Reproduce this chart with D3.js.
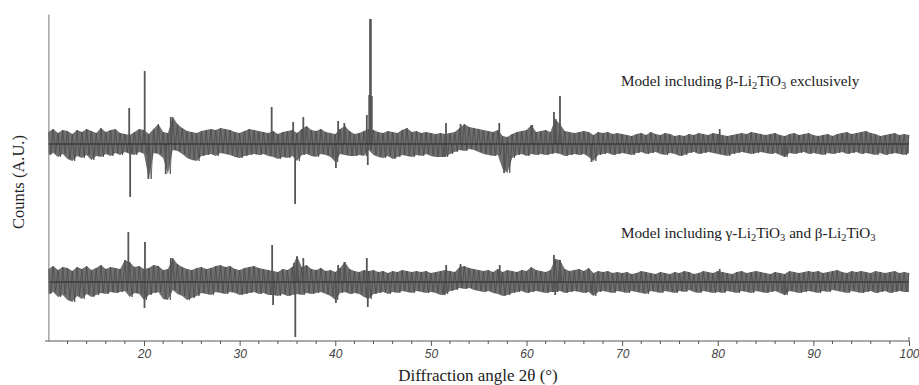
<!DOCTYPE html>
<html>
<head>
<meta charset="utf-8">
<script src="https://cdn.jsdelivr.net/npm/d3@7"></script>
<style>
  body { margin: 0; background: #fff; }
  .tick text { font-family: "Liberation Sans", Arial, sans-serif; font-style: italic; }
</style>
</head>
<body>
<div id="graf"></div>
<script>
// residual patterns, counts (A.U.), sampled every 0.5 deg from 10 to 100
const angleStart = 10
const angleStep = 0.5

const topHi = [
  120,150,110,140,130,100,140,120,150,130,
  110,160,120,140,150,110,100,90,120,150,
  140,100,150,200,120,110,270,200,160,130,
  120,110,130,140,150,140,160,150,140,120,
  110,130,150,140,130,120,110,130,100,120,
  130,140,110,150,180,140,130,150,120,110,
  100,150,180,130,100,110,130,150,140,120,
  110,130,120,110,140,160,120,130,110,120,
  110,100,110,100,110,120,160,200,170,160,
  150,140,130,120,140,80,70,100,120,130,
  140,190,120,130,140,120,250,200,130,120,
  110,120,130,120,90,120,110,120,100,110,
  100,90,80,100,110,90,120,100,90,110,
  100,80,90,80,100,90,110,100,90,110,
  100,90,80,90,100,110,100,120,110,100,
  90,100,110,90,80,100,110,90,100,110,
  90,80,90,100,80,100,110,120,100,110,
  120,130,110,100,80,90,100,110,90,100,
  90
]
const topLo = [
  -110,-90,-130,-100,-150,-170,-120,-140,-110,-160,
  -120,-130,-100,-120,-90,-110,-80,-100,-110,-80,
  -100,-350,-90,-100,-140,-300,-60,-70,-100,-140,
  -160,-170,-120,-110,-100,-120,-90,-100,-110,-130,
  -140,-120,-110,-100,-110,-100,-120,-130,-150,-130,
  -140,-120,-170,-110,-100,-120,-130,-100,-110,-130,
  -180,-100,-110,-120,-120,-110,-120,-60,-110,-130,
  -140,-120,-150,-130,-110,-120,-130,-110,-120,-100,
  -120,-130,-130,-130,-100,-80,-60,-70,-50,-60,
  -80,-100,-110,-120,-110,-250,-290,-140,-110,-100,
  -120,-100,-110,-100,-110,-100,-90,-100,-120,-110,
  -100,-110,-100,-130,-170,-110,-100,-90,-110,-100,
  -90,-100,-110,-90,-80,-100,-90,-80,-100,-110,
  -90,-100,-120,-110,-90,-80,-100,-90,-80,-90,
  -100,-110,-120,-100,-90,-80,-90,-100,-90,-80,
  -90,-100,-90,-110,-130,-90,-100,-90,-80,-100,
  -90,-100,-110,-90,-100,-90,-80,-100,-90,-80,
  -100,-90,-100,-110,-90,-110,-100,-90,-100,-110,
  -90
]
// sharp peaks / dips: [2theta, counts]
const topSpikes = [
  [18.45, 360], [18.55, -530], [20.07, 730], [20.45, -350], [22.27, -300],
  [22.8, 270], [33.35, 370], [35.6, 220], [35.8, -600], [36.66, 270],
  [40.07, -240], [40.3, 230], [40.95, 210], [43.3, 290], [43.4, -210],
  [43.55, 490], [43.64, 1250], [43.72, 1250], [43.82, 480], [51.45, -130],
  [51.58, 210], [53.1, 200], [57.15, 210], [57.65, -290], [60.6, 190],
  [62.87, 320], [63.05, 250], [63.5, 480], [66.8, -180], [80.2, 150], [87.0, -130]
]

const botHi = [
  130,160,120,150,140,110,150,130,160,120,
  140,170,130,150,140,130,220,200,150,160,
  130,140,170,160,120,130,240,180,150,130,
  120,140,150,130,140,160,170,150,160,130,
  120,140,150,160,140,130,120,110,100,130,
  120,150,260,150,170,130,120,140,110,120,
  100,140,200,130,110,100,120,110,120,100,
  110,90,110,100,120,110,100,110,100,110,
  90,100,110,120,110,100,150,160,140,130,
  120,110,120,100,130,100,120,110,100,120,
  110,150,120,110,100,120,230,220,130,110,
  120,130,110,140,90,110,100,110,90,100,
  90,100,80,90,110,100,90,80,100,90,
  80,100,90,110,100,80,90,110,100,90,
  110,100,90,80,100,110,90,100,110,100,
  90,80,100,90,80,110,100,90,100,110,
  100,110,90,100,110,120,100,90,110,100,
  110,100,90,110,100,90,100,110,90,100,
  90
]
const botLo = [
  -120,-100,-150,-130,-180,-200,-140,-170,-120,-150,
  -130,-110,-120,-100,-110,-100,-90,-150,-110,-120,
  -180,-130,-110,-100,-170,-180,-80,-120,-140,-180,
  -160,-140,-110,-120,-130,-100,-110,-120,-100,-110,
  -130,-120,-110,-100,-120,-110,-130,-130,-140,-120,
  -140,-130,-120,-130,-110,-120,-110,-100,-120,-140,
  -180,-110,-100,-120,-110,-120,-150,-170,-120,-110,
  -100,-120,-100,-110,-90,-100,-110,-90,-100,-110,
  -100,-110,-130,-120,-90,-80,-60,-70,-60,-80,
  -90,-100,-90,-110,-120,-140,-130,-110,-100,-90,
  -110,-100,-90,-100,-110,-100,-100,-90,-110,-100,
  -90,-100,-110,-100,-140,-100,-90,-100,-110,-90,
  -100,-110,-90,-100,-110,-120,-90,-100,-110,-90,
  -100,-110,-90,-100,-80,-100,-110,-90,-100,-110,
  -100,-110,-90,-100,-110,-90,-100,-110,-90,-100,
  -110,-100,-90,-110,-130,-90,-100,-110,-100,-90,
  -100,-110,-90,-100,-80,-90,-100,-110,-90,-100,
  -110,-100,-90,-110,-100,-90,-110,-100,-90,-100,
  -100
]
const botSpikes = [
  [18.36, 500], [20.05, -260], [20.1, 400], [22.8, 240], [33.4, 370],
  [33.5, -230], [35.7, 190], [35.82, -550], [36.0, 250], [36.66, 240],
  [40.07, -210], [40.3, 170], [40.95, 200], [43.3, 240], [43.4, -250],
  [51.45, -130], [51.6, 170], [53.1, 180], [57.2, 170], [62.87, 270],
  [63.0, -130], [63.5, 220], [66.9, -130], [80.2, 130], [87.0, -130]
]

const traces = [
  { name: "beta", offset: 1970, hi: topHi, lo: topLo, spikes: topSpikes },
  { name: "gammaBeta", offset: 590, hi: botHi, lo: botLo, spikes: botSpikes },
]

const xTicks = [20, 30, 40, 50, 60, 70, 80, 90, 100]
const xMinor = [12, 14, 16, 18, 22, 24, 26, 28, 32, 34, 36, 38, 42, 44, 46, 48, 52, 54, 56, 58,
  62, 64, 66, 68, 72, 74, 76, 78, 82, 84, 86, 88, 92, 94, 96, 98]

const anchoTotal = 919
const altoTotal = 385

const svg = d3.select("#graf")
  .append("svg")
  .attr("width", anchoTotal)
  .attr("height", altoTotal)

const x = d3.scaleLinear().domain([10, 100]).range([48.4, 909])
const y = d3.scaleLinear().domain([0, 3270]).range([341, 14])

const color = "#555"

traces.forEach((t) => {
  const angles = t.hi.map((d, i) => angleStart + i * angleStep)

  // noise envelope
  const band = d3.area()
    .x((d, i) => x(angles[i]))
    .y0((d, i) => y(t.offset + t.lo[i]))
    .y1((d, i) => y(t.offset + t.hi[i]))

  svg.append("path")
    .datum(t.hi)
    .attr("d", band)
    .attr("fill", "#6f6f6f")

  // trace oscillating between its upper and lower excursions
  const pts = []
  angles.forEach((a, i) => {
    pts.push([a, t.hi[i]])
    if (i < angles.length - 1) pts.push([a + angleStep / 2, t.lo[i]])
  })
  svg.append("path")
    .datum(pts)
    .attr("d", d3.line().x((d) => x(d[0])).y((d) => y(t.offset + d[1])))
    .attr("fill", "none")
    .attr("stroke", "#4a4a4a")
    .attr("stroke-width", 0.8)

  svg.selectAll(null)
    .data(t.spikes)
    .enter()
    .append("line")
    .attr("x1", (d) => x(d[0]))
    .attr("x2", (d) => x(d[0]))
    .attr("y1", y(t.offset))
    .attr("y2", (d) => y(t.offset + d[1]))
    .attr("stroke", color)
    .attr("stroke-width", 1.8)

  // zero line
  svg.append("line")
    .attr("x1", x(10))
    .attr("x2", x(100))
    .attr("y1", y(t.offset))
    .attr("y2", y(t.offset))
    .attr("stroke", "#2a2a2a")
    .attr("stroke-width", 1)
})

// axes
const xAxis = svg.append("g")
  .attr("transform", `translate(0, ${y(0)})`)
  .call(d3.axisBottom(x).tickValues(xTicks).tickSize(5).tickSizeOuter(0).tickPadding(3))
xAxis.select(".domain").attr("stroke", "#555").attr("d", `M45,0H${x(100)}`)
xAxis.selectAll(".tick line").attr("stroke", "#555")
xAxis.selectAll(".tick text").attr("font-size", 12).attr("fill", "#444")

svg.append("g")
  .attr("transform", `translate(0, ${y(0)})`)
  .selectAll("line")
  .data(xMinor)
  .enter()
  .append("line")
  .attr("x1", (d) => x(d))
  .attr("x2", (d) => x(d))
  .attr("y1", 0)
  .attr("y2", 3)
  .attr("stroke", "#555")

svg.append("line")
  .attr("x1", x(100))
  .attr("x2", x(100))
  .attr("y1", y(0) - 4)
  .attr("y2", y(0))
  .attr("stroke", "#555")

svg.append("g")
  .attr("transform", `translate(${x(10)}, 0)`)
  .call(d3.axisLeft(y).ticks(0).tickSizeOuter(0))
  .select(".domain")
  .attr("stroke", "#777")

// titles
const serif = "'Liberation Serif', 'Times New Roman', serif"

svg.append("text")
  .attr("x", 478)
  .attr("y", 381)
  .attr("text-anchor", "middle")
  .attr("font-family", serif)
  .attr("font-size", 17)
  .attr("fill", "#222")
  .text("Diffraction angle 2θ (°)")

svg.append("text")
  .attr("transform", "translate(24, 182) rotate(-90)")
  .attr("text-anchor", "middle")
  .attr("font-family", serif)
  .attr("font-size", 16.5)
  .attr("fill", "#222")
  .text("Counts (A.U.)")

const labels = [
  { y: 86, parts: [["Model including β-Li", 0], ["2", 1], ["TiO", 0], ["3", 1], [" exclusively", 0]] },
  { y: 238, parts: [["Model including γ-Li", 0], ["2", 1], ["TiO", 0], ["3", 1], [" and β-Li", 0], ["2", 1], ["TiO", 0], ["3", 1]] },
]

labels.forEach((l) => {
  const txt = svg.append("text")
    .attr("x", 621)
    .attr("y", l.y)
    .attr("font-family", serif)
    .attr("font-size", 15.2)
    .attr("fill", "#222")
  let prev = 0
  l.parts.forEach(([s, sub]) => {
    txt.append("tspan")
      .attr("dy", sub === prev ? 0 : sub ? 2.5 : -2.5)
      .attr("font-size", sub ? 10.5 : 15.2)
      .text(s)
    prev = sub
  })
})
</script>
</body>
</html>
